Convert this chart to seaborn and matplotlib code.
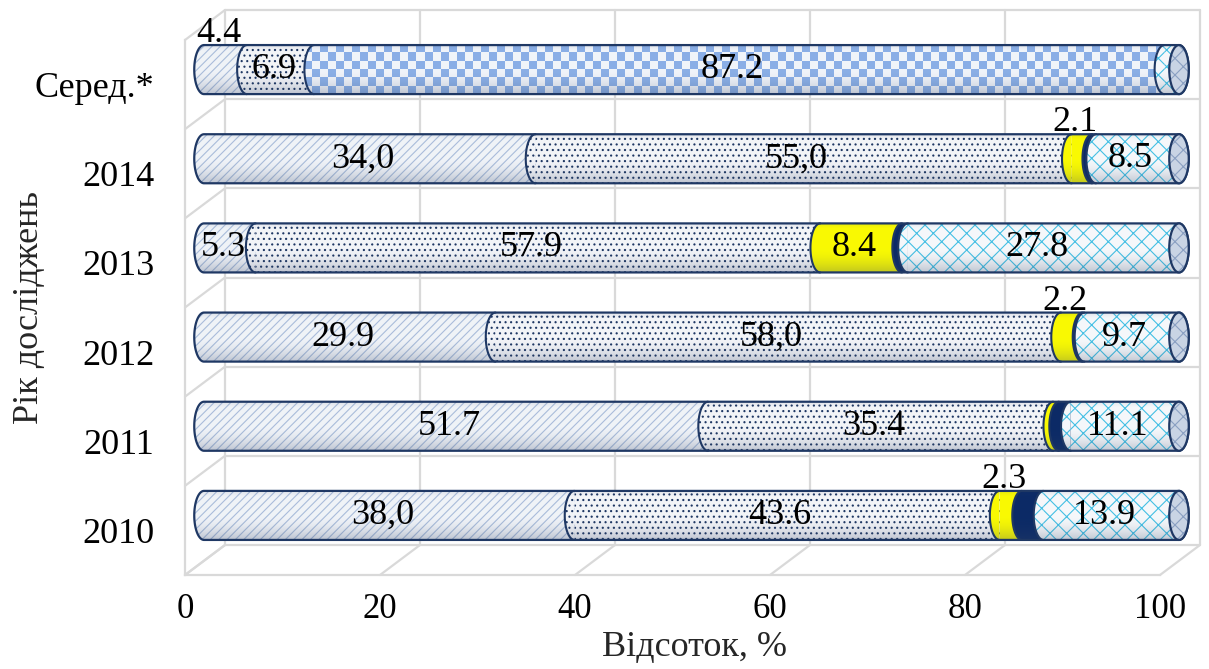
import numpy as np
import matplotlib
matplotlib.use("Agg")
import matplotlib.pyplot as plt
import seaborn as sns
from matplotlib.patches import Polygon, Ellipse, PathPatch
from matplotlib.path import Path
from matplotlib.lines import Line2D

# ---- data -------------------------------------------------------------
categories = ['Серед.*', '2014', '2013', '2012', '2011', '2010']
s1 = [4.4, 34.0, 5.3, 29.9, 51.7, 38.0]
s2 = [6.9, 55.0, 57.9, 58.0, 35.4, 43.6]
s3 = [0.0, 2.1, 8.4, 2.2, 0.6, 2.3]
s4 = [0.0, 0.4, 0.6, 0.2, 1.2, 2.2]
s5 = [87.2, 0.0, 0.0, 0.0, 0.0, 0.0]
s6 = [1.5, 8.5, 27.8, 9.7, 11.1, 13.9]
l1 = ['4.4', '34,0', '5.3', '29.9', '51.7', '38,0']
l2 = ['6.9', '55,0', '57.9', '58,0', '35.4', '43.6']
l3 = ['', '2.1', '8.4', '2.2', '', '2.3']
l4 = ['', '', '', '', '', '']
l5 = ['87.2', '', '', '', '', '']
l6 = ['', '8.5', '27.8', '9.7', '11.1', '13.9']
x_ticks = [0, 20, 40, 60, 80, 100]
x_title = 'Відсоток, %'
y_title = 'Рік досліджень'

series = [s1, s2, s3, s4, s5, s6]
labels = [l1, l2, l3, l4, l5, l6]

# ---- styling ----------------------------------------------------------
sns.set_theme(style='white')
plt.rcParams['font.family'] = ['Liberation Serif', 'DejaVu Serif']
plt.rcParams['hatch.linewidth'] = 0.8

GRID = '#d9d9d9'
NAVY = '#1f3864'
styles = [
    dict(face='#f5f8fc', hatch='////', hc='#adc0de'),
    dict(face='#f8f9fc', hatch='...', hc='#1f3864'),
    dict(face='#ffff00', hatch=None, hc='#ffff00'),
    dict(face='#0b2a66', hatch=None, hc='#0b2a66'),
    dict(face='#f2f6fc', hatch=None, hc='#f2f6fc', checker=('#8db2ea', '#f6f9fe')),
    dict(face='#fbfdff', hatch='xx', hc='#45c3e8'),
]

W, H = 1209, 669
PXU = 9.75                       # pixels per percent
fig = plt.figure(figsize=(W / 100, H / 100), dpi=100)
fig.patch.set_facecolor('white')


def px_rect(x0, y_top, w, h):
    return [x0 / W, 1 - (y_top + h) / H, w / W, h / H]


# the cylinder layer gets a little extra room for its rounded ends
PAD = 1.6
ax_back = fig.add_axes(px_rect(225, 10, 100 * PXU, 535), zorder=0)
ax_front = fig.add_axes(px_rect(185, 40, 100 * PXU, 535), zorder=1)
ax_bar = fig.add_axes(px_rect(204 - PAD * PXU, 25, (100 + 2 * PAD) * PXU, 535), zorder=2)

n_cat = len(categories)
ylims = (n_cat - 0.5, -0.5)
for ax in (ax_back, ax_front):
    ax.set_xlim(0, 100)
    ax.set_ylim(*ylims)

# ---- back wall --------------------------------------------------------
ax_back.set_facecolor('white')
for sp in ax_back.spines.values():
    sp.set_visible(False)
ax_back.set_xticks([])
ax_back.set_yticks([])
boundaries = np.arange(-0.5, n_cat, 1.0)
for xv in x_ticks:
    ax_back.axvline(xv, color=GRID, lw=1.6, clip_on=False)
for yb in boundaries:
    ax_back.axhline(yb, color=GRID, lw=1.6, clip_on=False)

# side wall and floor edges joining back plane to front plane
to_fig = fig.transFigure.inverted()


def connector(xv, yv):
    pb = ax_back.transData.transform((xv, yv))
    pf = ax_front.transData.transform((xv, yv))
    a, b = to_fig.transform(pb), to_fig.transform(pf)
    fig.add_artist(Line2D([a[0], b[0]], [a[1], b[1]], color=GRID, lw=1.6,
                          transform=fig.transFigure, zorder=0.5))


for yb in boundaries:
    connector(0, yb)
for xv in x_ticks:
    connector(xv, boundaries[-1])

# ---- front plane: axes, ticks, titles --------------------------------
ax_front.set_facecolor('none')
for name, sp in ax_front.spines.items():
    if name in ('left', 'bottom'):
        sp.set_color(GRID)
        sp.set_linewidth(1.6)
    else:
        sp.set_visible(False)
ax_front.set_xticks(x_ticks)
ax_front.set_xticklabels([str(t) for t in x_ticks], fontsize=25)
ax_front.set_yticks(range(n_cat))
ax_front.set_yticklabels(categories, fontsize=26)
ax_front.tick_params(axis='x', direction='out', length=7, width=1.3,
                     color=GRID, pad=6, labelcolor='black')
ax_front.tick_params(axis='y', length=0, pad=22, labelcolor='black')
ax_front.set_yticks(boundaries, minor=True)
ax_front.tick_params(axis='y', which='minor', direction='out', length=5,
                     width=1.3, color=GRID)
ax_front.set_xlabel(x_title, fontsize=26)
ax_front.xaxis.set_label_coords(0.523, -0.105)
ax_front.set_ylabel(y_title, fontsize=26)
ax_front.yaxis.set_label_coords(-0.143, 0.5)

# ---- stacked cylinders ------------------------------------------------
vals = np.array(series, dtype=float)
cum = np.cumsum(vals, axis=0)
BAR_H = 0.55
A = 1.0            # half-width of the elliptical ends, in x units
B = BAR_H / 2

for k in reversed(range(len(series))):
    st = styles[k]
    n0 = len(ax_bar.patches)
    sns.barplot(x=cum[k], y=categories, orient='h', width=BAR_H,
                color=st['face'], errorbar=None, ax=ax_bar)
    for p in ax_bar.patches[n0:]:
        p.set_facecolor(st['face'])
        p.set_edgecolor(st['hc'])
        p.set_linewidth(0)
        p.set_hatch(st['hatch'])
        p.set_zorder(1)

t = np.linspace(-np.pi / 2, np.pi / 2, 80)
for i in range(n_cat):
    c = i
    total = cum[-1][i]
    for k in range(len(series)):
        v = vals[k][i]
        if v <= 0:
            continue
        st = styles[k]
        L = cum[k][i] - v
        R = cum[k][i]
        xs = L - A * np.cos(t)
        ys = c + B * np.sin(t)
        zk = 1.5 + 0.05 * k
        ax_bar.add_patch(Polygon(np.column_stack([xs, ys]), closed=True,
                                 facecolor=st['face'], edgecolor=st['hc'],
                                 hatch=st['hatch'], lw=0, zorder=zk))
        if 'checker' in st:
            ncol = int(round((v + A) * PXU / 8.0))
            nrow = 6
            c1 = np.array(matplotlib.colors.to_rgb(st['checker'][0]))
            c2 = np.array(matplotlib.colors.to_rgb(st['checker'][1]))
            ii, jj = np.meshgrid(np.arange(nrow), np.arange(ncol), indexing='ij')
            tex = np.where(((ii + jj) % 2 == 0)[..., None], c1, c2)
            im = ax_bar.imshow(tex, extent=(L - A, R, c - B, c + B), origin='lower',
                               aspect='auto', interpolation='nearest', zorder=zk + 0.01)
            seg_verts = np.vstack([np.column_stack([xs, ys]),
                                   [[R, c + B], [R, c - B], [L, c - B]]])
            clip = PathPatch(Path(seg_verts, closed=True), transform=ax_bar.transData,
                             facecolor='none', edgecolor='none')
            ax_bar.add_patch(clip)
            im.set_clip_path(clip)
        if L > 0:
            ax_bar.add_line(Line2D(xs, ys, color=NAVY, lw=1.5, zorder=2.6))

    # shading across the whole cylinder body
    left_arc = np.column_stack([-A * np.cos(t), c + B * np.sin(t)])
    right_arc = np.column_stack([total + A * np.cos(t[::-1]), c + B * np.sin(t[::-1])])
    outline = np.vstack([left_arc, right_arc])
    body = PathPatch(Path(outline, closed=True), facecolor='none', edgecolor=NAVY,
                     lw=1.6, zorder=3)
    ax_bar.add_patch(body)
    tt = np.linspace(0, 1, 64)
    alpha = (0.03 + 0.26 * np.clip((tt - 0.5) / 0.5, 0, 1) ** 1.8
             + 0.10 * np.clip((0.12 - tt) / 0.12, 0, 1))
    grad = np.zeros((64, 1, 4))
    grad[..., 0], grad[..., 1], grad[..., 2] = 0.20, 0.27, 0.40
    grad[:, 0, 3] = alpha
    gim = ax_bar.imshow(grad, extent=(-A, total + A, c - B, c + B), origin='lower',
                        aspect='auto', interpolation='bilinear', zorder=2.5)
    gim.set_clip_path(body)

    # end cap
    ax_bar.add_patch(Ellipse((total, c), 2 * A, 2 * B, facecolor='#c9d4e4',
                             edgecolor='#8aa0c2', hatch='xx', lw=0, zorder=3.2))
    ax_bar.add_patch(Ellipse((total, c), 2 * A, 2 * B, facecolor='none',
                             edgecolor=NAVY, lw=1.6, zorder=3.3))

# value labels
for k in range(len(series)):
    for i in range(n_cat):
        txt = labels[k][i]
        v = vals[k][i]
        if not txt:
            continue
        xc = cum[k][i] - v / 2
        if v < 5:
            ax_bar.annotate(txt, (xc, i - B), xytext=(-5, 2), textcoords='offset points',
                            ha='center', va='baseline', fontsize=26, color='black',
                            zorder=5, annotation_clip=False)
        else:
            ax_bar.annotate(txt, (xc, i), xytext=(-5, 0), textcoords='offset points',
                            ha='center', va='center', fontsize=26, color='black',
                            zorder=5, annotation_clip=False)

ax_bar.set_xlim(-PAD, 100 + PAD)
ax_bar.set_ylim(*ylims)
ax_bar.set_axis_off()

fig.savefig('out.png', dpi=100, facecolor='white')
